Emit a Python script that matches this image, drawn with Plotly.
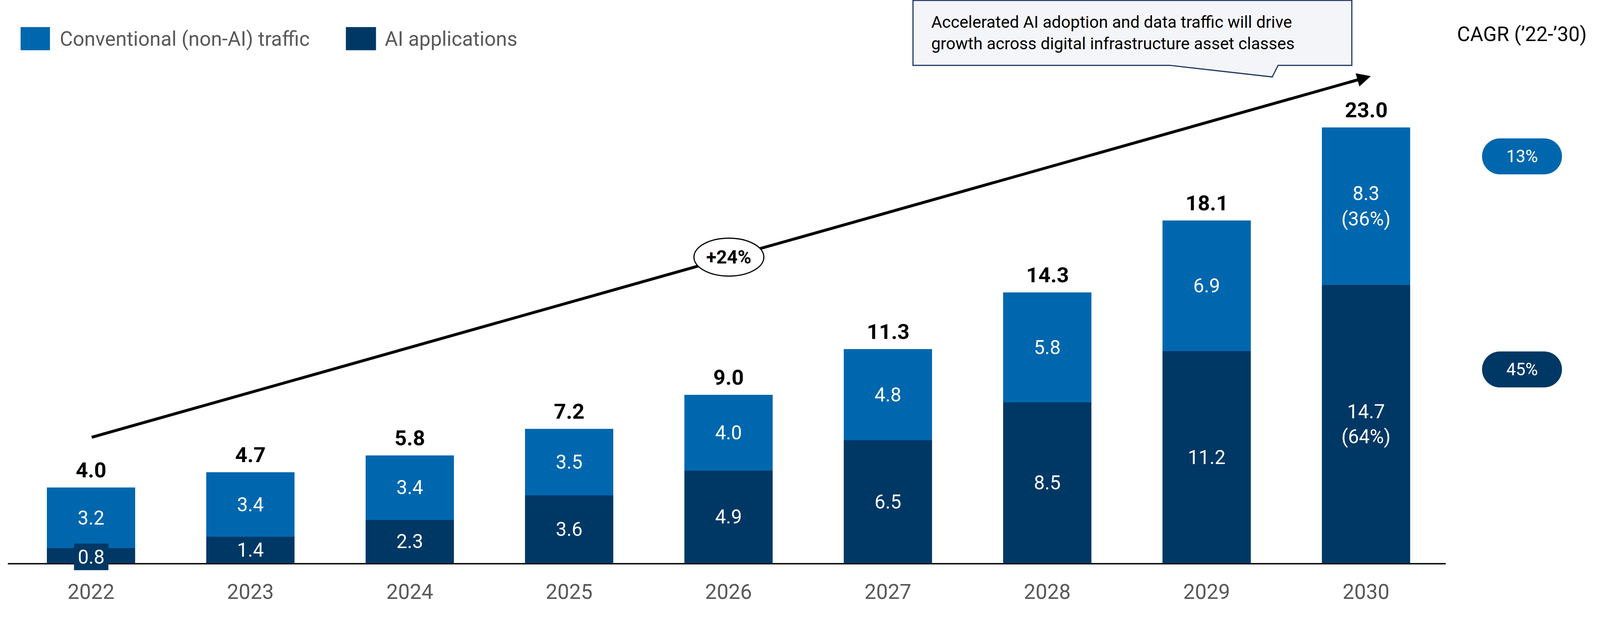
import plotly.graph_objects as go

# ---------------- data ----------------
years = ["2022", "2023", "2024", "2025", "2026", "2027", "2028", "2029", "2030"]
ai_apps = [0.8, 1.4, 2.3, 3.6, 4.9, 6.5, 8.5, 11.2, 14.7]
conventional = [3.2, 3.4, 3.4, 3.5, 4.0, 4.8, 5.8, 6.9, 8.3]
totals = [4.0, 4.7, 5.8, 7.2, 9.0, 11.3, 14.3, 18.1, 23.0]
series_names = ["Conventional (non-AI) traffic", "AI applications"]
cagr_title = "CAGR (\u201922-\u201930)"
cagr_conventional = "13%"
cagr_ai = "45%"
overall_cagr = "+24%"
callout_text = ("Accelerated AI adoption and data traffic will drive<br>"
                "growth across digital infrastructure asset classes")

# ---------------- style ----------------
C_CONV = "#0067AE"
C_AI = "#003865"
GREY = "#595959"
FONT = "Roboto, 'Noto Sans', sans-serif"

# target picture frame (pixels) and css scale of the page
TW, TH = 4143, 1609
S = 1 / 1.011


def s(v):
    return v * S


W, H = round(TW * S), round(TH * S)
L, R, T, B = 29, 3742, 0, 1457          # plot area in target pixels
YMAX = B / 49.0


def PX(x):
    return (x - L) / (R - L)


def PY(y):
    return (B - y) / (B - T)


n = len(years)
last = n - 1
conv_text = []
ai_text = []
for i in range(n):
    if i == last:
        conv_text.append(f"{conventional[i]:.1f}<br>({conventional[i] / totals[i]:.0%})")
        ai_text.append(f"{ai_apps[i]:.1f}<br>({ai_apps[i] / totals[i]:.0%})")
    else:
        conv_text.append(f"{conventional[i]:.1f}")
        ai_text.append("" if i == 0 else f"{ai_apps[i]:.1f}")

seg_font = dict(family=FONT, size=s(50), color="white")
fig = go.Figure()
fig.add_trace(go.Bar(
    x=years, y=ai_apps, name=series_names[1], marker=dict(color=C_AI, line=dict(width=0)),
    width=0.556, text=ai_text, textposition="inside", insidetextanchor="middle",
    textangle=0, textfont=seg_font, hoverinfo="skip", constraintext="none",
))
fig.add_trace(go.Bar(
    x=years, y=conventional, name=series_names[0], marker=dict(color=C_CONV, line=dict(width=0)),
    width=0.556, text=conv_text, textposition="inside", insidetextanchor="middle",
    textangle=0, textfont=seg_font, hoverinfo="skip", constraintext="none",
))

annotations = []
# totals above bars
for i in range(n):
    annotations.append(dict(
        x=i, y=ai_apps[i] + conventional[i], xref="x", yref="y",
        text=f"<b>{totals[i]:.1f}</b>", showarrow=False, yanchor="middle", yshift=s(45),
        font=dict(family=FONT, size=s(55), color="black"),
    ))
# first AI label, with its own dark box overflowing the thin segment
annotations.append(dict(
    x=0, y=ai_apps[0] / 2, xref="x", yref="y", text=f"{ai_apps[0]:.1f}",
    showarrow=False, bgcolor=C_AI, width=s(88), height=s(68), borderpad=0, yshift=s(-3),
    font=dict(family=FONT, size=s(50), color="white"),
))

shapes = []
# baseline
shapes.append(dict(type="line", xref="paper", yref="paper", x0=PX(20), x1=PX(3742),
                   y0=PY(B + 1), y1=PY(B + 1), line=dict(color="black", width=s(3.5)),
                   layer="below"))

# legend (manual)
legend_items = [(C_CONV, series_names[0], 53, 129, 152), (C_AI, series_names[1], 895, 973, 994)]
for col, name, sx0, sx1, tx in legend_items:
    shapes.append(dict(type="rect", xref="paper", yref="paper", x0=PX(sx0), x1=PX(sx1),
                       y0=PY(130), y1=PY(70), fillcolor=col, line=dict(width=0)))
    annotations.append(dict(x=PX(tx), y=PY(101), xref="paper", yref="paper", text=name,
                            showarrow=False, xanchor="left", yanchor="middle",
                            font=dict(family=FONT, size=s(52), color=GREY)))

# callout box
cb = [(2363, 1), (3499, 1), (3499, 169), (3308, 169), (3293, 199), (3028, 169), (2363, 169)]
path = "M " + " L ".join(f"{PX(x)},{PY(y)}" for x, y in cb) + " Z"
shapes.append(dict(type="path", xref="paper", yref="paper", path=path,
                   fillcolor="#F3F5F8", line=dict(color="#1F3864", width=s(3))))
annotations.append(dict(x=PX(2408), y=PY(85), xref="paper", yref="paper", text=callout_text,
                        showarrow=False, xanchor="left", yanchor="middle", align="left",
                        font=dict(family=FONT, size=s(43), color="black")))

# CAGR header
annotations.append(dict(x=PX(3939.5), y=PY(88), xref="paper", yref="paper", text=cagr_title,
                        showarrow=False, xanchor="center", yanchor="middle",
                        font=dict(family=FONT, size=s(52), color="black")))


def stadium(x0, y0, x1, y1):
    r = (y1 - y0) / 2
    k = 0.5523 * r
    cy = (y0 + y1) / 2
    p = lambda x, y: f"{PX(x)},{PY(y)}"
    return (f"M {p(x0 + r, y0)} L {p(x1 - r, y0)} "
            f"C {p(x1 - r + k, y0)} {p(x1, cy - k)} {p(x1, cy)} "
            f"C {p(x1, cy + k)} {p(x1 - r + k, y1)} {p(x1 - r, y1)} "
            f"L {p(x0 + r, y1)} "
            f"C {p(x0 + r - k, y1)} {p(x0, cy + k)} {p(x0, cy)} "
            f"C {p(x0, cy - k)} {p(x0 + r - k, y0)} {p(x0 + r, y0)} Z")


for label, col, y0, y1 in [(cagr_conventional, C_CONV, 358, 451), (cagr_ai, C_AI, 909, 1002)]:
    shapes.append(dict(type="path", xref="paper", yref="paper", path=stadium(3836, y0, 4043, y1),
                       fillcolor=col, line=dict(width=0)))
    annotations.append(dict(x=PX(3939.5), y=PY((y0 + y1) / 2), xref="paper", yref="paper",
                            text=label, showarrow=False, xanchor="center", yanchor="middle",
                            font=dict(family=FONT, size=s(44), color="white")))

# growth arrow: shaft + ellipse + head
ax0, ay0, ax1, ay1 = 237, 1131, 3548, 197
dx, dy = ax1 - ax0, ay1 - ay0
ln = (dx ** 2 + dy ** 2) ** 0.5
ux, uy = dx / ln, dy / ln
shapes.append(dict(type="line", xref="paper", yref="paper", x0=PX(ax0), y0=PY(ay0),
                   x1=PX(ax1 - 25 * ux), y1=PY(ay1 - 25 * uy),
                   line=dict(color="black", width=s(7.5)), layer="above"))
shapes.append(dict(type="circle", xref="paper", yref="paper", x0=PX(1796), x1=PX(1977),
                   y0=PY(714), y1=PY(616), fillcolor="white",
                   line=dict(color="black", width=s(3)), layer="above"))
annotations.append(dict(x=PX(1886.5), y=PY(665), xref="paper", yref="paper",
                        text=f"<b>{overall_cagr}</b>", showarrow=False,
                        font=dict(family=FONT, size=s(48), color="black")))
annotations.append(dict(x=PX(ax1), y=PY(ay1), xref="paper", yref="paper", text="",
                        showarrow=True, arrowhead=2, arrowsize=0.95, arrowwidth=s(7.5),
                        arrowcolor="black", ax=s(-60 * ux), ay=s(-60 * uy), standoff=0))

fig.update_layout(
    width=W, height=H, barmode="stack", showlegend=False,
    margin=dict(l=s(L), r=W - s(R), t=s(T), b=H - s(B), pad=0),
    plot_bgcolor="white", paper_bgcolor="white",
    xaxis=dict(type="category", range=[-0.5, n - 0.5], showgrid=False, zeroline=False,
               showline=False, ticks="", ticklabelstandoff=int(round(s(37))),
               tickfont=dict(family=FONT, size=s(54), color=GREY)),
    yaxis=dict(range=[0, YMAX], showgrid=False, zeroline=False, showline=False,
               showticklabels=False, ticks=""),
    annotations=annotations, shapes=shapes,
    uniformtext=dict(minsize=s(50), mode="show"),
)

fig.write_html("out.html", config={"displayModeBar": False},
               post_script="document.body.style.margin='0';")
